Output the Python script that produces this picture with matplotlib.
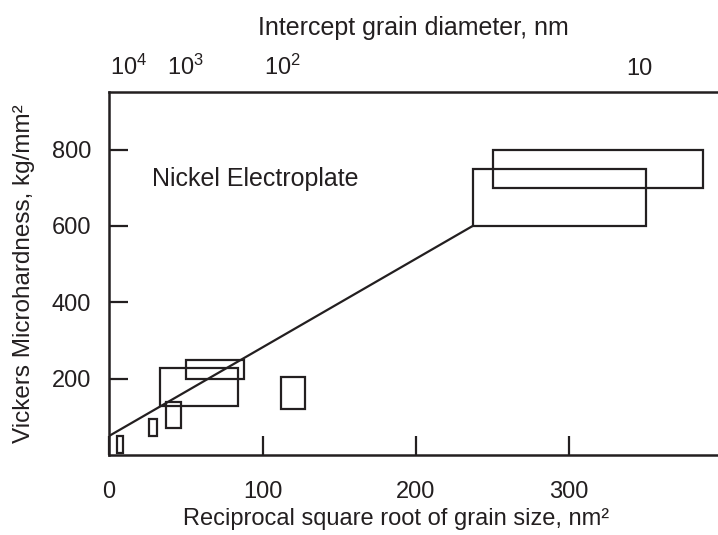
import matplotlib
matplotlib.use("Agg")
import matplotlib.pyplot as plt
from matplotlib.patches import Rectangle

plt.rcParams['font.family'] = ['Liberation Sans', 'DejaVu Sans']
plt.rcParams['mathtext.fontset'] = 'custom'
plt.rcParams['mathtext.rm'] = 'Liberation Sans'

INK = '#231f20'

# Data ------------------------------------------------------------
# Hall-Petch line (reciprocal sqrt grain size vs hardness)
line_x = [0, 237]
line_y = [50, 600]

# Data boxes: x range and hardness range
box_x0 = [250, 237, 33, 50, 37, 26, 5, 112]
box_x1 = [387, 350, 84, 88, 47, 31, 9, 128]
box_y0 = [700, 600, 128, 200, 72, 49, 5, 120]
box_y1 = [800, 750, 228, 250, 140, 95, 50, 204]

bottom_ticks = [0, 100, 200, 300]
left_ticks = [200, 400, 600, 800]
top_tick_pos = [13, 50, 113, 346]
top_tick_labels = [r'$\mathregular{10^4}$', r'$\mathregular{10^3}$',
                   r'$\mathregular{10^2}$', '10']

# Figure ------------------------------------------------------------
fig = plt.figure(figsize=(7.18, 5.35), dpi=100)
ax = fig.add_axes([0.152, 0.1495, 0.848, 0.6785])
ax.set_xlim(0, 397)
ax.set_ylim(0, 951)

ax.plot(line_x, line_y, color=INK, lw=1.6, solid_capstyle='butt')
for x0, x1, y0, y1 in zip(box_x0, box_x1, box_y0, box_y1):
    ax.add_patch(Rectangle((x0, y0), x1 - x0, y1 - y0, fill=False,
                           edgecolor=INK, lw=1.6, joinstyle='miter'))

ax.text(28, 705, 'Nickel Electroplate', fontsize=18, color=INK,
        ha='left', va='baseline')

for s in ['right']:
    ax.spines[s].set_visible(False)
for s in ['left', 'bottom', 'top']:
    ax.spines[s].set_linewidth(1.8)
    ax.spines[s].set_color(INK)

ax.set_xticks(bottom_ticks)
ax.set_yticks(left_ticks)
ax.tick_params(axis='both', direction='in', length=14, width=1.6,
               colors=INK, labelsize=17)
ax.tick_params(axis='x', pad=19)
ax.tick_params(axis='y', pad=13)
ax.set_xlabel('Reciprocal square root of grain size, nm²', fontsize=17,
              color=INK)
ax.xaxis.set_label_coords(0.472, -0.145)
ax.set_ylabel('Vickers Microhardness, kg/mm²', fontsize=17.5,
              color=INK, labelpad=12)

ax2 = ax.twiny()
ax2.set_xlim(ax.get_xlim())
for s in ax2.spines.values():
    s.set_visible(False)
ax2.set_xticks(top_tick_pos)
ax2.set_xticklabels(top_tick_labels)
ax2.tick_params(axis='x', length=0, pad=9, labelsize=17, colors=INK)
ax2.set_xlabel('Intercept grain diameter, nm', fontsize=18, color=INK,
               labelpad=14)

fig.savefig('out.png', dpi=100)
